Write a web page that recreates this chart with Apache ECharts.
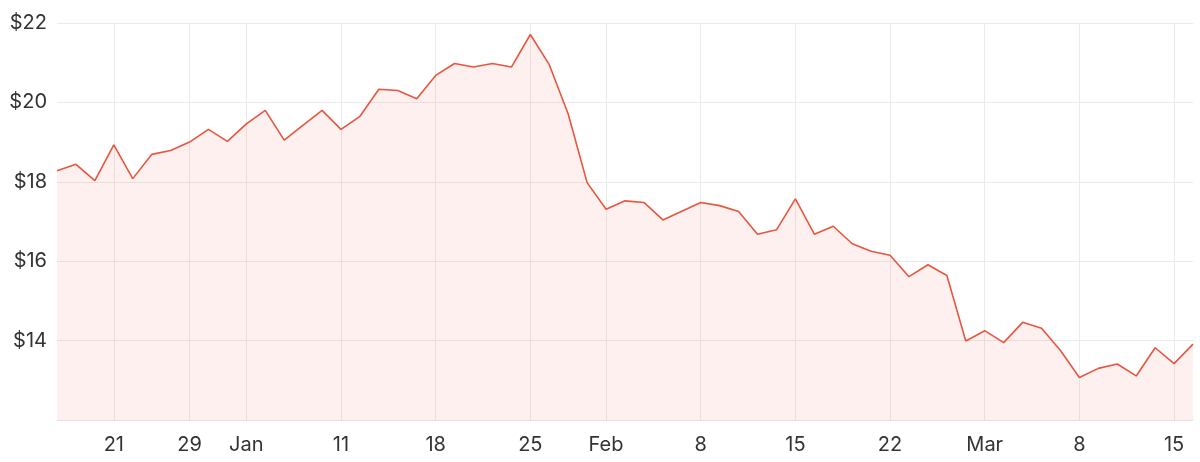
<!DOCTYPE html>
<html>
<head>
<meta charset="utf-8">
<script src="https://cdn.jsdelivr.net/npm/echarts@6/dist/echarts.min.js"></script>
<style>
  html, body { margin: 0; padding: 0; background: #fff; }
  #chart { width: 1200px; height: 462px; }
</style>
</head>
<body>
<div id="chart"></div>
<script>
// trading days (ASX calendar)
var dates = [
  '2020-12-16', '2020-12-17', '2020-12-18', '2020-12-21', '2020-12-22', '2020-12-23', '2020-12-24',
  '2020-12-29', '2020-12-30', '2020-12-31',
  '2021-01-04', '2021-01-05', '2021-01-06', '2021-01-07', '2021-01-08',
  '2021-01-11', '2021-01-12', '2021-01-13', '2021-01-14', '2021-01-15',
  '2021-01-18', '2021-01-19', '2021-01-20', '2021-01-21', '2021-01-22',
  '2021-01-25', '2021-01-27', '2021-01-28', '2021-01-29',
  '2021-02-01', '2021-02-02', '2021-02-03', '2021-02-04', '2021-02-05',
  '2021-02-08', '2021-02-09', '2021-02-10', '2021-02-11', '2021-02-12',
  '2021-02-15', '2021-02-16', '2021-02-17', '2021-02-18', '2021-02-19',
  '2021-02-22', '2021-02-23', '2021-02-24', '2021-02-25', '2021-02-26',
  '2021-03-01', '2021-03-02', '2021-03-03', '2021-03-04', '2021-03-05',
  '2021-03-08', '2021-03-09', '2021-03-10', '2021-03-11', '2021-03-12',
  '2021-03-15', '2021-03-16'
];

var prices = [
  18.28, 18.44, 18.03, 18.93, 18.08, 18.69, 18.79, 19.00, 19.32, 19.02,
  19.46, 19.80, 19.05, 19.43, 19.80, 19.32, 19.65, 20.33, 20.30, 20.09,
  20.68, 20.98, 20.89, 20.98, 20.89, 21.71, 20.95, 19.71, 17.98, 17.31,
  17.52, 17.48, 17.04, 17.26, 17.48, 17.40, 17.25, 16.68, 16.79, 17.57,
  16.68, 16.88, 16.44, 16.25, 16.15, 15.61, 15.91, 15.64, 13.99, 14.25,
  13.95, 14.46, 14.31, 13.75, 13.07, 13.30, 13.41, 13.11, 13.82, 13.42, 13.91
];

var tickDates = [
  '2020-12-21', '2020-12-29', '2021-01-04', '2021-01-11', '2021-01-18', '2021-01-25',
  '2021-02-01', '2021-02-08', '2021-02-15', '2021-02-22', '2021-03-01', '2021-03-08', '2021-03-15'
];
var tickLabels = ['21', '29', 'Jan', '11', '18', '25', 'Feb', '8', '15', '22', 'Mar', '8', '15'];

var yTicks = [12, 14, 16, 18, 20, 22];

var showTick = function (index) {
  return tickDates.indexOf(dates[index]) !== -1;
};

var myChart = echarts.init(document.getElementById('chart'));
var option = {
  animation: false,
  grid: {
    left: 57,
    right: 7,
    top: 23,
    bottom: 42
  },
  xAxis: {
    type: 'category',
    data: dates,
    boundaryGap: false,
    axisLine: {
      lineStyle: { color: '#e2e2e2', width: 1 }
    },
    axisTick: { show: false },
    axisLabel: {
      interval: showTick,
      margin: 15,
      color: '#333',
      fontFamily: 'Inter',
      fontSize: 20,
      formatter: function (value) {
        return tickLabels[tickDates.indexOf(value)];
      }
    },
    splitLine: {
      show: true,
      interval: showTick,
      lineStyle: { color: '#ebebeb', width: 1 }
    }
  },
  yAxis: {
    type: 'value',
    min: yTicks[0],
    max: yTicks[yTicks.length - 1],
    interval: 2,
    axisLine: { show: false },
    axisTick: { show: false },
    axisLabel: {
      margin: 10,
      color: '#333',
      fontFamily: 'Inter',
      fontSize: 20,
      formatter: function (value) {
        return value === yTicks[0] ? '' : '$' + value;
      }
    },
    splitLine: {
      lineStyle: { color: '#ebebeb', width: 1 }
    }
  },
  series: [
    {
      type: 'line',
      data: prices,
      symbol: 'none',
      lineStyle: { color: '#e9553f', width: 1.6 },
      areaStyle: { color: 'rgba(233, 85, 63, 0.12)' }
    }
  ]
};
myChart.setOption(option);
</script>
</body>
</html>
